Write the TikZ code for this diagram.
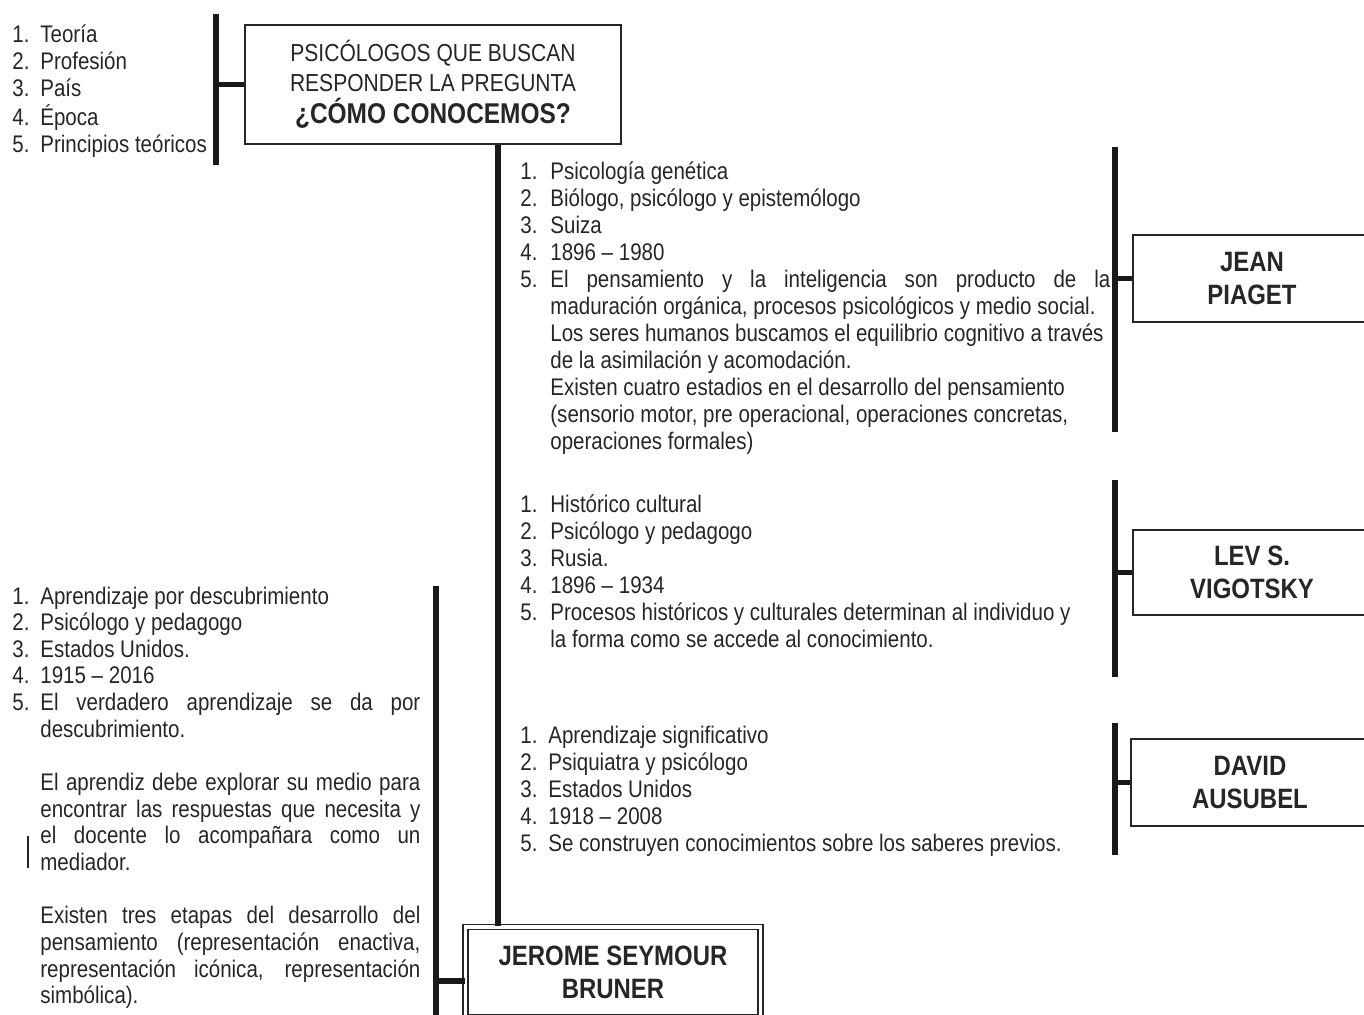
\documentclass[tikz,border=0pt]{standalone}
\usepackage{fontspec}
\setmainfont{Liberation Sans}[FakeStretch=0.855]
\newcommand\jline[2]{\makebox[#1][s]{#2}}
\begin{document}
\begin{tikzpicture}[x=0.5pt,y=-0.5pt,
  bar/.style={line width=2.6pt, draw=black!90},
  box/.style={draw=black!85, line width=1.4pt, fill=white, align=center, inner sep=0pt, text=black!85},
  namebox/.style={box, minimum width=119pt, minimum height=43.5pt, font=\fontsize{14}{16.5}\selectfont\bfseries},
  txt/.style={anchor=base west, inner sep=0pt, text=black!85, font=\fontsize{12}{13.5}\selectfont},
]
\useasboundingbox (0,0) rectangle (1364,1015);
\clip (0,0) rectangle (1364,1015);

% boxes
\node[box, minimum width=188pt, minimum height=59.5pt, font=\fontsize{12.3}{15}\selectfont] (title) at (433,84.5)
  {PSICÓLOGOS QUE BUSCAN\\RESPONDER LA PREGUNTA\\[1pt]{\fontsize{14.3}{16}\selectfont\bfseries ¿CÓMO CONOCEMOS?}};
\node[namebox] (piaget) at (1252,278.5) {JEAN\\PIAGET};
\node[namebox, minimum height=42.5pt] (vigotsky) at (1252,572.5) {LEV S.\\VIGOTSKY};
\node[namebox] (ausubel) at (1250,782.5) {DAVID\\AUSUBEL};
\node[namebox, line width=0.8pt, double=white, double distance=1.6pt, minimum width=147.5pt, minimum height=45pt] (bruner) at (613,972) {JEROME SEYMOUR\\BRUNER};

% text blocks
\node[txt] (legend) at (12,43) {\begin{tabular}[t]{@{}p{14pt}@{}l@{}}
1.&Teoría\\
2.&Profesión\\
3.&País\\
4.&Época\\
5.&Principios teóricos
\end{tabular}};

\node[txt] (ptxt) at (520,180) {\begin{tabular}[t]{@{}p{15pt}@{}l@{}}
1.&Psicología genética\\
2.&Biólogo, psicólogo y epistemólogo\\
3.&Suiza\\
4.&1896 – 1980\\
5.&\jline{280pt}{El pensamiento y la inteligencia son producto de la}\\
 &maduración orgánica, procesos psicológicos y medio social.\\
 &Los seres humanos buscamos el equilibrio cognitivo a través\\
 &de la asimilación y acomodación.\\
 &Existen cuatro estadios en el desarrollo del pensamiento\\
 &(sensorio motor, pre operacional, operaciones concretas,\\
 &operaciones formales)
\end{tabular}};

\node[txt] (vtxt) at (520,512) {\begin{tabular}[t]{@{}p{15pt}@{}l@{}}
1.&Histórico cultural\\
2.&Psicólogo y pedagogo\\
3.&Rusia.\\
4.&1896 – 1934\\
5.&Procesos históricos y culturales determinan al individuo y\\
 &la forma como se accede al conocimiento.
\end{tabular}};

\node[txt] (atxt) at (520,743) {\begin{tabular}[t]{@{}p{14pt}@{}l@{}}
1.&Aprendizaje significativo\\
2.&Psiquiatra y psicólogo\\
3.&Estados Unidos\\
4.&1918 – 2008\\
5.&Se construyen conocimientos sobre los saberes previos.
\end{tabular}};

\node[txt, font=\fontsize{12}{13.33}\selectfont] (btxt) at (12,604) {\begin{tabular}[t]{@{}p{14pt}@{}l@{}}
1.&Aprendizaje por descubrimiento\\
2.&Psicólogo y pedagogo\\
3.&Estados Unidos.\\
4.&1915 – 2016\\
5.&\jline{190pt}{El verdadero aprendizaje se da por}\\
 &descubrimiento.\\
 &\\
 &\jline{190pt}{El aprendiz debe explorar su medio para}\\
 &\jline{190pt}{encontrar las respuestas que necesita y}\\
 &\jline{190pt}{el docente lo acompañara como un}\\
 &mediador.\\
 &\\
 &\jline{190pt}{Existen tres etapas del desarrollo del}\\
 &\jline{190pt}{pensamiento (representación enactiva,}\\
 &\jline{190pt}{representación icónica, representación}\\
 &simbólica).
\end{tabular}};

% bars and connectors
\coordinate (tlT) at (216,14); \coordinate (tlB) at (216,165);
\draw[bar] (tlT) -- (tlB);
\draw[bar] (tlT |- title.west) -- (title.west);

\coordinate (trunk) at (498,500);
\draw[bar] (trunk |- title.south) -- (trunk |- bruner.north);

\coordinate (pT) at (1115,147); \coordinate (pB) at (1115,432);
\draw[bar] (pT) -- (pB);
\draw[bar] (pT |- piaget.west) -- (piaget.west);

\coordinate (vT) at (1115,480); \coordinate (vB) at (1115,677);
\draw[bar] (vT) -- (vB);
\draw[bar] (vT |- vigotsky.west) -- (vigotsky.west);

\coordinate (aT) at (1115,723); \coordinate (aB) at (1115,855);
\draw[bar] (aT) -- (aB);
\draw[bar] (aT |- ausubel.west) -- (ausubel.west);

\coordinate (bT) at (436,586); \coordinate (bB) at (436,1020);
\draw[bar] (bT) -- (bB);
\coordinate (bj) at (436,981);
\draw[bar] (bj) -- (bj -| bruner.west);

% stray thin mark
\coordinate (sT) at (28,836); \coordinate (sB) at (28,868);
\draw[line width=0.7pt, black!85] (sT) -- (sB);
\end{tikzpicture}
\end{document}
